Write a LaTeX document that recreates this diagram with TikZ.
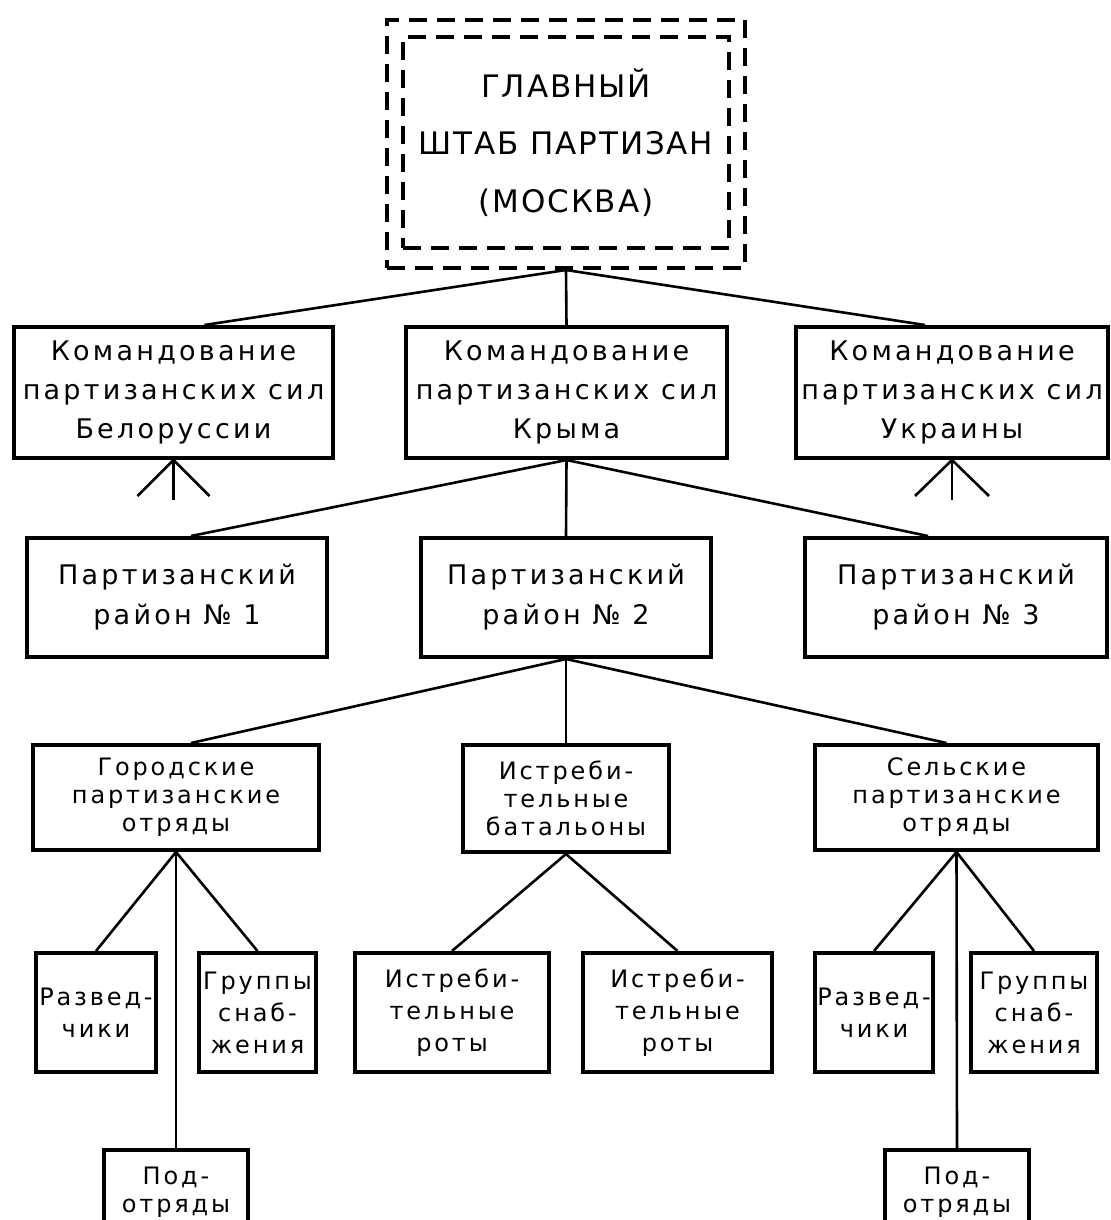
\documentclass[tikz,border=0pt]{standalone}
\usepackage{fontspec}
\newfontfamily\rfont[LetterSpace=12]{DejaVu Sans}
\newfontfamily\hfont[LetterSpace=6]{DejaVu Sans}
\usetikzlibrary{calc}
\newcommand\mkbox[7]{\node[box,#7,minimum width={(#4-#2)*0.5pt},minimum height={(#5-#3)*0.5pt}] (#1) at ({(#2+#4)/2},{(#3+#5)/2}) {#6};}
\begin{document}
\begin{tikzpicture}[x=0.5pt,y=-0.5pt,
  box/.style={draw, line width=2pt, inner sep=0pt, align=center},
  dbox/.style={draw, line width=2pt, dash pattern=on 9pt off 5pt},
  link/.style={line width=1.3pt},
  fhq/.style={font=\hfont\fontsize{15.5}{28.75}\selectfont},
  fa/.style={font=\rfont\fontsize{13.5}{19.5}\selectfont},
  fb/.style={font=\rfont\fontsize{13.5}{20}\selectfont},
  fc/.style={font=\rfont\fontsize{12}{14}\selectfont},
  fd/.style={font=\rfont\fontsize{12}{16}\selectfont}]
\fill[white] (0,0) rectangle (1111,1220);
\clip (0,0) rectangle (1111,1220);
% HQ
\mkbox{hq}{387}{20}{745}{268}{}{dbox}
\mkbox{hqin}{403}{37}{729}{248}{ГЛАВНЫЙ\\ШТАБ ПАРТИЗАН\\(МОСКВА)}{dbox,fhq}
% row 2
\mkbox{b1}{14}{327}{333}{458}{Командование\\партизанских сил\\Белоруссии}{fa}
\mkbox{b2}{406}{327}{727}{458}{Командование\\партизанских сил\\Крыма}{fa}
\mkbox{b3}{796}{327}{1108}{458}{Командование\\партизанских сил\\Украины}{fa}
% row 3
\mkbox{r1}{27}{538}{327}{657}{Партизанский\\район № 1}{fb}
\mkbox{r2}{421}{538}{711}{657}{Партизанский\\район № 2}{fb}
\mkbox{r3}{805}{538}{1107}{657}{Партизанский\\район № 3}{fb}
% row 4
\mkbox{gor}{33}{745}{319}{850}{Городские\\партизанские\\отряды}{fc}
\mkbox{ib}{463}{745}{669}{852}{Истреби-\\тельные\\батальоны}{fc}
\mkbox{sel}{815}{745}{1098}{850}{Сельские\\партизанские\\отряды}{fc}
% row 5
\mkbox{razl}{36}{953}{156}{1072}{Развед-\\чики}{fd}
\mkbox{grl}{199}{953}{316}{1072}{Группы\\снаб-\\жения}{fd}
\mkbox{rot1}{355}{953}{549}{1072}{Истреби-\\тельные\\роты}{fd}
\mkbox{rot2}{583}{953}{772}{1072}{Истреби-\\тельные\\роты}{fd}
\mkbox{razr}{815}{953}{933}{1072}{Развед-\\чики}{fd}
\mkbox{grr}{971}{953}{1097}{1072}{Группы\\снаб-\\жения}{fd}
% row 6 (cut by the lower edge)
\mkbox{podl}{104}{1150}{248}{1234}{Под-\\отряды}{fc}
\mkbox{podr}{885}{1150}{1029}{1234}{Под-\\отряды}{fc}
% connectors
\draw[link] (hq.south) -- ($(b1.north)+(31,0)$);
\draw[link] (hq.south) -- (b2.north);
\draw[link] (hq.south) -- ($(b3.north)+(-27,0)$);
\draw[link] (b2.south) -- ($(r1.north)+(14,0)$);
\draw[link] (b2.south) -- (r2.north);
\draw[link] (b2.south) -- ($(r3.north)+(-28,0)$);
\draw[link] (r2.south) -- ($(gor.north)+(15,0)$);
\draw[link] (r2.south) -- (ib.north);
\draw[link] (r2.south) -- ($(sel.north)+(-10,0)$);
\draw[link] (gor.south) -- (razl.north);
\draw[link] (gor.south) -- (grl.north);
\draw[link] (gor.south) -- (podl.north);
\draw[link] (ib.south) -- (rot1.north);
\draw[link] (ib.south) -- (rot2.north);
\draw[link] (sel.south) -- (razr.north);
\draw[link] (sel.south) -- (grr.north);
\draw[link] (sel.south) -- (podr.north);
% tripods
\coordinate (t1l) at ($(b1.south)+(-36,36)$);
\coordinate (t1m) at ($(b1.south)+(0,40)$);
\coordinate (t1r) at ($(b1.south)+(36,36)$);
\coordinate (t3l) at ($(b3.south)+(-37,36)$);
\coordinate (t3m) at ($(b3.south)+(0,40)$);
\coordinate (t3r) at ($(b3.south)+(37,36)$);
\draw[link] (b1.south) -- (t1l);
\draw[link] (b1.south) -- (t1m);
\draw[link] (b1.south) -- (t1r);
\draw[link] (b3.south) -- (t3l);
\draw[link] (b3.south) -- (t3m);
\draw[link] (b3.south) -- (t3r);
\end{tikzpicture}
\end{document}
